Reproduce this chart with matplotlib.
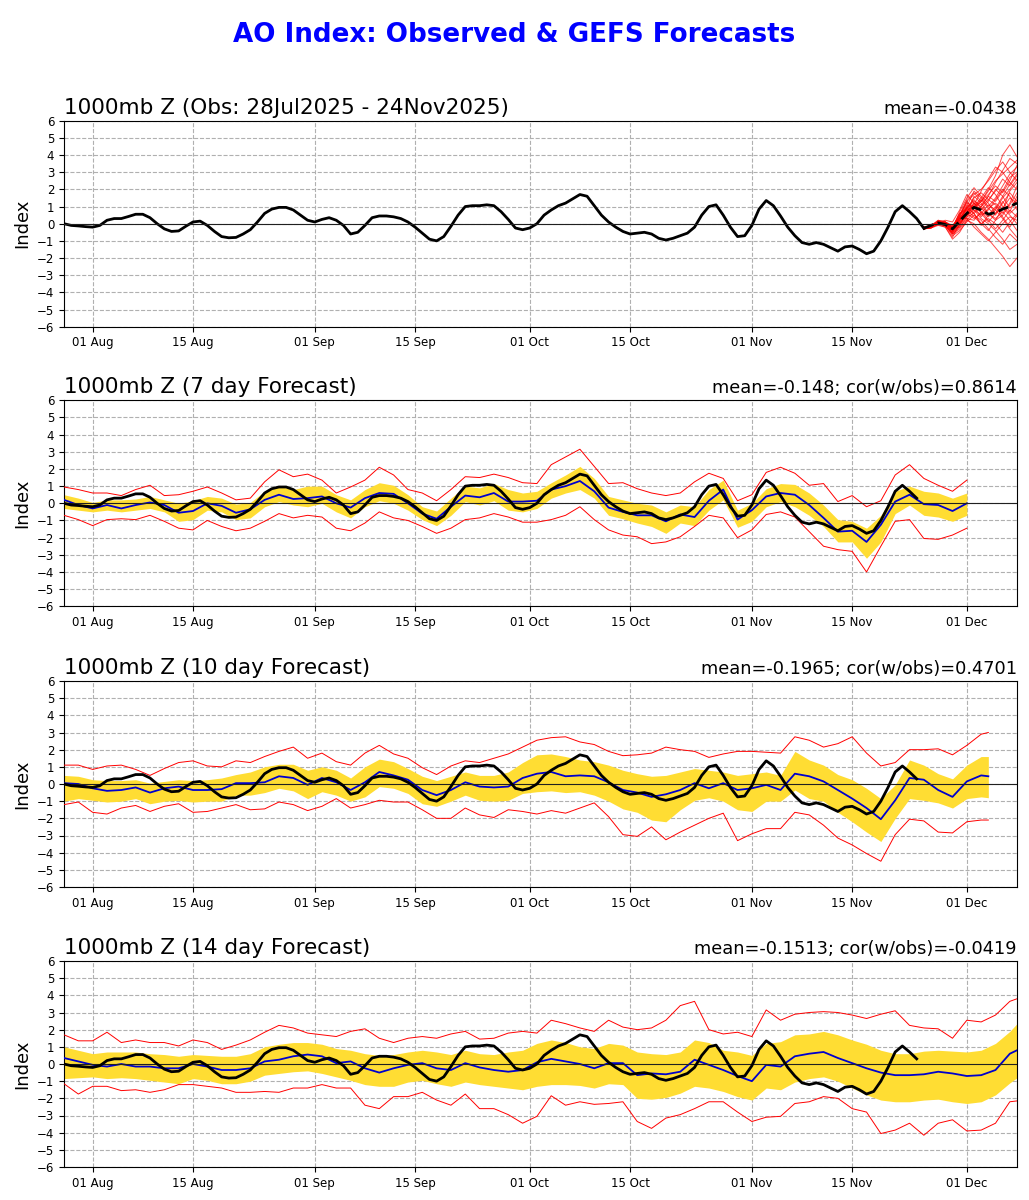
import numpy as np
import matplotlib
matplotlib.use('Agg')
import matplotlib.pyplot as plt
import matplotlib.dates as mdates

# ---- data ----
start = np.datetime64('2025-07-28')

# observed AO, daily from 28 Jul to 24 Nov
obs = [0.0, -0.1, -0.13, -0.17, -0.2, -0.1, 0.2, 0.3, 0.3, 0.42,
       0.55, 0.55, 0.35, 0.0, -0.3, -0.45, -0.42, -0.15, 0.1, 0.15,
       -0.1, -0.45, -0.75, -0.82, -0.8, -0.6, -0.35, 0.1, 0.6, 0.85,
       0.95, 0.95, 0.8, 0.5, 0.2, 0.1, 0.25, 0.35, 0.2, -0.1,
       -0.6, -0.5, -0.1, 0.35, 0.45, 0.45, 0.4, 0.3, 0.1, -0.2,
       -0.55, -0.9, -1.0, -0.75, -0.15, 0.5, 1.0, 1.05, 1.05, 1.1,
       1.05, 0.7, 0.25, -0.25, -0.35,
       -0.25, 0.0, 0.5, 0.8, 1.05, 1.2, 1.45, 1.7, 1.6, 1.05,
       0.5, 0.1, -0.2, -0.45, -0.6, -0.55, -0.5, -0.6, -0.85, -0.95,
       -0.85, -0.7, -0.55, -0.2, 0.5, 1.0, 1.1, 0.5, -0.2, -0.75,
       -0.7, -0.1, 0.85, 1.35, 1.05, 0.45, -0.2, -0.7, -1.1, -1.2,
       -1.1, -1.2, -1.4, -1.6, -1.35, -1.3, -1.5, -1.75, -1.6, -1.0,
       -0.2, 0.7, 1.05, 0.7, 0.3]
obs_days = np.arange(len(obs))

# GEFS ensemble from 25 Nov to 08 Dec
ens_days = np.arange(120, 134)
ens_mean = [-0.27, -0.1, 0.05, -0.05, -0.3, 0.15, 0.6, 0.95, 0.8, 0.55, 0.65, 0.85, 1.0, 1.2]
members = [
    [-0.25, -0.1, 0.1, 0.0, -0.3, 0.3, 0.9, 1.3, 1.1, 1.6, 2.4, 3.1, 3.8, 3.5],
    [-0.3, -0.2, 0.0, 0.1, -0.2, 0.5, 1.2, 1.0, 0.7, 0.4, 0.8, 1.5, 2.0, 2.6],
    [-0.2, -0.15, 0.05, -0.1, -0.6, -0.2, 0.4, 0.9, 1.3, 2.0, 2.8, 4.0, 4.6, 3.9],
    [-0.3, -0.25, -0.1, -0.2, -0.9, -0.5, 0.2, 0.0, -0.5, -0.9, -1.4, -1.9, -2.5, -2.0],
    [-0.25, -0.2, 0.2, 0.1, -0.4, 0.0, 0.6, 1.6, 1.2, 0.6, 0.2, 0.5, 1.1, 1.8],
    [-0.3, -0.1, 0.0, -0.15, -0.5, 0.2, 1.0, 1.9, 1.5, 1.0, 1.5, 2.2, 2.9, 3.3],
    [-0.2, -0.2, -0.05, 0.0, -0.2, 0.6, 0.8, 0.4, 0.0, -0.4, 0.2, 0.9, 0.5, 0.0],
    [-0.3, -0.25, 0.1, 0.2, 0.1, 0.8, 1.7, 1.2, 0.8, 1.3, 2.0, 1.6, 0.9, 1.4],
    [-0.25, -0.15, 0.0, -0.1, -0.7, -0.4, 0.1, 0.5, 0.2, -0.3, -0.8, -1.2, -0.6, -1.0],
    [-0.3, -0.2, 0.15, 0.05, -0.3, 0.4, 0.5, 1.0, 1.5, 2.1, 1.7, 1.0, 0.6, 1.0],
    [-0.2, -0.1, 0.0, 0.0, -0.1, 0.2, 0.6, 0.3, 0.6, 1.1, 0.8, 0.3, -0.3, -0.8],
    [-0.3, -0.2, 0.1, -0.05, -0.4, 0.1, 0.9, 1.4, 0.9, 0.5, 0.9, 1.6, 2.3, 2.9],
    [-0.25, -0.15, 0.05, 0.1, -0.2, 0.3, 0.3, -0.2, -0.6, -1.0, -0.5, 0.0, 0.4, 0.2],
    [-0.3, -0.2, -0.05, -0.2, -0.8, 0.0, 0.7, 1.1, 1.9, 2.6, 3.3, 3.0, 2.4, 2.0],
    [-0.2, -0.1, 0.1, 0.0, -0.3, 0.5, 1.3, 0.8, 0.3, 0.0, -0.4, -0.9, -1.5, -1.2],
    [-0.3, -0.25, 0.0, 0.05, -0.2, 0.2, 0.7, 1.2, 1.0, 1.4, 1.1, 0.6, 1.2, 2.2],
    [-0.25, -0.2, 0.1, -0.1, -0.5, -0.1, 0.5, 0.8, 0.5, 0.8, 1.4, 2.0, 1.6, 0.8],
    [-0.3, -0.15, 0.05, 0.0, -0.3, 0.7, 1.5, 2.1, 1.6, 1.2, 0.6, 0.9, 1.5, 1.2],
    [-0.2, -0.2, 0.0, -0.05, -0.4, 0.1, 0.4, 0.6, 0.0, 0.3, 0.0, -0.5, 0.1, 0.6],
    [-0.3, -0.1, 0.2, 0.1, -0.1, 0.4, 1.1, 0.9, 1.3, 1.9, 2.5, 2.9, 3.3, 3.7],
    [-0.25, -0.2, 0.0, -0.1, -0.6, -0.3, 0.2, 0.7, 1.0, 0.6, 0.3, 0.7, 0.2, -0.4],
    [-0.3, -0.2, 0.1, 0.0, -0.3, 0.3, 0.8, 1.0, 0.4, 0.9, 1.2, 0.8, 1.9, 2.4],
    [-0.25, -0.15, 0.1, 0.05, -0.4, 0.2, 0.9, 1.5, 1.8, 1.4, 1.9, 2.6, 2.2, 2.8],
    [-0.3, -0.2, 0.0, -0.1, -0.5, 0.4, 1.3, 1.7, 2.0, 2.5, 3.1, 3.6, 3.0, 2.5],
    [-0.2, -0.1, 0.05, 0.0, -0.3, -0.2, 0.3, 0.2, 0.7, 0.2, -0.3, 0.2, 0.8, 0.4],
    [-0.3, -0.25, 0.0, 0.1, -0.2, 0.6, 0.9, 0.6, 1.0, 1.6, 1.3, 1.9, 2.7, 3.0],
    [-0.25, -0.2, 0.1, 0.0, -0.5, 0.0, 0.5, 1.2, 0.6, 0.1, 0.6, 1.3, 0.7, 1.6],
    [-0.3, -0.1, 0.15, 0.05, -0.2, 0.3, 1.0, 0.6, -0.1, 0.5, 1.0, 0.4, -0.2, 0.5],
    [-0.2, -0.2, 0.0, -0.05, -0.6, -0.1, 0.6, 1.0, 1.4, 0.9, 0.5, 1.2, 1.8, 1.3],
    [-0.3, -0.15, 0.05, 0.1, -0.3, 0.5, 1.4, 1.8, 1.3, 1.7, 2.2, 1.8, 2.5, 3.4],
]

# 7 day forecasts (every 2nd day)
fc7_days = np.arange(0, 127, 2)
fc7_mean = [0.2, -0.1, -0.3, -0.1, -0.3, -0.1, 0.05, -0.1, -0.55, -0.45,
            0.0, -0.15, -0.55, -0.35, 0.2, 0.5, 0.25, 0.3, 0.4, 0.0,
            -0.25, 0.3, 0.6, 0.55, 0.0, -0.6, -0.9, -0.2, 0.45, 0.35,
            0.6, 0.1, 0.1,
            0.15, 0.8, 1.0, 1.3, 0.7, -0.25, -0.5, -0.7, -0.7, -1.05,
            -0.65, -0.8, 0.15, 0.8, -0.95, -0.4, 0.4, 0.6, 0.5, -0.1,
            -0.85, -1.65, -1.6, -2.25, -1.25, 0.1, 0.5, -0.05, -0.1, -0.45, 0.0]
fc7_hi = [0.5, 0.3, 0.05, 0.2, 0.2, 0.25, 0.4, 0.2, 0.0, 0.15,
          0.4, 0.3, -0.05, 0.05, 0.7, 1.0, 0.8, 1.0, 1.0, 0.5,
          0.2, 0.8, 1.2, 1.05, 0.5, -0.2, -0.45, 0.3, 1.0, 0.9,
          1.15, 0.8, 0.6,
          0.7, 1.2, 1.65, 2.15, 1.45, 0.4, 0.2, 0.0, -0.1, -0.5,
          -0.1, -0.2, 0.8, 1.35, -0.4, 0.0, 0.85, 1.15, 1.1, 0.6,
          -0.1, -0.95, -1.05, -1.45, -0.7, 0.7, 1.0, 0.7, 0.6, 0.3, 0.6]
fc7_lo = [-0.3, -0.4, -0.5, -0.4, -0.5, -0.4, -0.3, -0.5, -1.05, -0.95,
          -0.4, -0.5, -0.95, -0.85, -0.2, 0.1, -0.1, -0.2, 0.0, -0.5,
          -0.85, -0.2, 0.15, 0.0, -0.4, -0.95, -1.3, -0.7, 0.1, -0.1,
          0.15, -0.4, -0.5,
          -0.3, 0.3, 0.6, 0.8, 0.3, -0.7, -0.9, -1.15, -1.35, -1.75,
          -1.15, -1.3, -0.4, 0.2, -1.4, -1.05, -0.2, 0.1, -0.2, -0.7,
          -1.35, -2.25, -2.25, -3.2, -2.25, -0.6, -0.1, -0.7, -0.8, -1.05, -0.7]
fc7_max = [0.95, 0.8, 0.6, 0.6, 0.45, 0.8, 1.05, 0.45, 0.5, 0.7,
           0.95, 0.6, 0.2, 0.3, 1.25, 1.95, 1.55, 1.7, 1.35, 0.6,
           0.95, 1.35, 2.1, 1.65, 0.8, 0.6, 0.15, 0.8, 1.55, 1.5,
           1.7, 1.5, 1.2,
           1.15, 2.25, 2.7, 3.15, 2.15, 1.15, 1.2, 0.85, 0.6, 0.45,
           0.6, 1.25, 1.75, 1.45, 0.15, 0.5, 1.8, 2.1, 1.75, 1.05,
           1.15, 0.1, 0.45, -0.2, 0.15, 1.65, 2.25, 1.45, 1.05, 0.7, 1.35]
fc7_min = [-0.7, -0.95, -1.3, -0.95, -0.9, -0.95, -0.7, -1.05, -1.45, -1.55,
           -1.0, -1.35, -1.6, -1.45, -1.05, -0.6, -0.85, -0.7, -0.8, -1.45,
           -1.6, -1.15, -0.5, -0.85, -1.0, -1.35, -1.75, -1.45, -0.95, -0.85,
           -0.6, -0.8, -1.1,
           -1.1, -0.95, -0.7, -0.2, -0.95, -1.55, -1.85, -1.95, -2.35, -2.25,
           -1.95, -1.35, -0.7, -0.85, -2.0, -1.55, -0.65, -0.5, -0.8, -1.65,
           -2.5, -2.7, -2.8, -4.0, -2.5, -1.05, -0.95, -2.05, -2.1, -1.85, -1.45]

# 10 day forecasts
fc10_days = np.append(np.arange(0, 129, 2), 129)
fc10_mean = [0.05, 0.0, -0.25, -0.4, -0.35, -0.2, -0.5, -0.25, -0.15, -0.35,
             -0.35, -0.3, 0.05, 0.05, 0.1, 0.45, 0.35, -0.05, 0.35, 0.1,
             -0.35, 0.1, 0.7, 0.5, 0.25, -0.35, -0.65, -0.35, 0.1, -0.15,
             -0.2, -0.15, 0.35,
             0.6, 0.7, 0.45, 0.5, 0.45, 0.1, -0.35, -0.5, -0.75, -0.6,
             -0.35, 0.05, -0.25, 0.05, -0.35, -0.25, -0.05, -0.35, 0.6, 0.45,
             0.15, -0.35, -0.85, -1.4, -2.05, -0.95, 0.35, 0.25, -0.35, -0.75,
             0.15, 0.5, 0.45]
fc10_hi = [0.5, 0.45, 0.25, 0.2, 0.2, 0.25, 0.05, 0.15, 0.25, 0.2,
           0.25, 0.35, 0.55, 0.7, 1.0, 1.15, 1.15, 0.8, 1.0, 0.8,
           0.35, 1.0, 1.45, 1.3, 0.9, 0.45, 0.2, 0.45, 0.7, 0.5,
           0.5, 0.7, 1.25,
           1.7, 1.75, 1.6, 1.4, 1.3, 1.1, 0.8, 0.6, 0.45, 0.5,
           0.7, 0.9, 0.8, 0.7, 0.5, 0.6, 0.7, 0.5, 1.9, 1.4,
           1.1, 0.55, 0.25, -0.25, -0.85, -0.05, 1.4, 1.1, 0.6, 0.3,
           1.1, 1.6, 1.6]
fc10_lo = [-1.0, -0.85, -0.95, -1.05, -1.0, -0.85, -1.15, -1.0, -0.95, -1.05,
           -1.0, -1.0, -0.65, -0.65, -0.5, -0.25, -0.4, -0.85, -0.45, -0.65,
           -1.0, -0.75, -0.15, -0.25, -0.55, -1.15, -1.3, -1.0, -0.65, -0.95,
           -1.0, -0.95, -0.55,
           -0.45, -0.4, -0.5, -0.45, -0.65, -1.0, -1.45, -1.65, -2.1, -2.2,
           -1.5, -0.95, -0.8, -1.0, -1.5, -1.6, -1.0, -1.0, -0.35, -0.85,
           -1.0, -1.65, -2.2, -2.8, -3.35, -2.0, -0.85, -0.95, -1.1, -1.4,
           -0.85, -0.75, -0.8]
fc10_max = [1.1, 1.1, 0.85, 1.05, 1.1, 0.85, 0.5, 0.9, 1.25, 1.35,
            1.05, 1.0, 1.35, 1.25, 1.6, 1.9, 2.15, 1.5, 1.8, 1.3,
            1.1, 1.8, 2.25, 1.75, 1.5, 0.95, 0.55, 1.05, 1.35, 1.25,
            1.5, 1.75, 2.15,
            2.55, 2.7, 2.75, 2.45, 2.3, 1.9, 1.65, 1.7, 1.8, 2.15,
            2.0, 1.9, 1.55, 1.75, 1.9, 1.9, 1.85, 1.8, 2.75, 2.55,
            2.15, 2.35, 2.75, 1.8, 1.05, 1.25, 2.0, 2.0, 2.05, 1.7,
            2.25, 2.9, 3.0]
fc10_min = [-1.2, -1.05, -1.65, -1.75, -1.4, -1.25, -1.6, -1.3, -1.15, -1.65,
            -1.6, -1.4, -1.2, -1.5, -1.45, -1.05, -1.2, -1.55, -1.3, -0.85,
            -1.4, -1.2, -0.95, -1.05, -1.05, -1.5, -2.0, -2.0, -1.4, -1.8,
            -1.95, -1.5, -1.6,
            -1.75, -1.55, -1.7, -1.4, -1.1, -1.9, -2.95, -3.05, -2.5, -3.25,
            -2.8, -2.4, -2.0, -1.7, -3.3, -2.9, -2.6, -2.6, -1.65, -1.8,
            -2.4, -3.15, -3.55, -4.05, -4.5, -2.95, -2.05, -2.15, -2.8, -2.85,
            -2.2, -2.1, -2.1]

# 14 day forecasts
fc14_days = np.append(np.arange(0, 133, 2), 133)
fc14_mean = [0.35, 0.15, -0.05, -0.15, 0.0, -0.15, -0.15, -0.25, -0.25, 0.0,
             -0.15, -0.35, -0.35, -0.25, 0.15, 0.25, 0.45, 0.55, 0.45, 0.05,
             0.15, -0.25, -0.5, -0.25, -0.05, 0.05, -0.25, -0.35, 0.05, -0.2,
             -0.35, -0.45, -0.35,
             0.1, 0.3, 0.15, 0.0, -0.25, 0.05, 0.05, -0.65, -0.55, -0.6,
             -0.45, 0.25, -0.05, -0.35, -0.7, -1.0, -0.05, -0.15, 0.45, 0.6,
             0.7, 0.35, 0.05, -0.25, -0.5, -0.65, -0.65, -0.6, -0.45, -0.55,
             -0.7, -0.65, -0.35, 0.6, 0.8]
fc14_hi = [1.0, 0.8, 0.6, 0.7, 0.7, 0.7, 0.6, 0.55, 0.45, 0.55,
           0.5, 0.45, 0.45, 0.6, 1.0, 1.15, 1.25, 1.25, 1.15, 0.9,
           0.8, 0.6, 0.5, 0.55, 0.7, 0.8, 0.7, 0.55, 0.8, 0.6,
           0.55, 0.7, 0.8,
           1.2, 1.4, 1.25, 1.0, 0.9, 1.2, 1.1, 0.7, 0.6, 0.55,
           0.7, 1.4, 1.25, 0.8, 0.7, 0.5, 1.2, 1.3, 1.7, 1.75,
           1.9, 1.7, 1.4, 1.15, 0.8, 0.6, 0.6, 0.75, 0.8, 0.75,
           0.7, 0.8, 1.2, 1.9, 2.35]
fc14_lo = [-0.85, -0.8, -0.75, -0.85, -0.8, -0.85, -0.95, -1.05, -1.15, -0.85,
           -0.95, -1.15, -1.15, -1.0, -0.65, -0.55, -0.45, -0.4, -0.55, -0.75,
           -0.95, -1.2, -1.3, -1.3, -1.05, -0.95, -1.15, -1.3, -1.05, -1.2,
           -1.3, -1.4, -1.5,
           -1.3, -1.2, -1.2, -1.25, -1.4, -1.15, -1.2, -2.0, -2.05, -1.95,
           -1.7, -1.3, -1.4, -1.6, -1.9, -2.1, -1.4, -1.5, -1.05, -0.85,
           -0.75, -1.0, -1.4, -1.8, -2.1, -2.2, -2.2, -2.1, -2.05, -2.2,
           -2.3, -2.2, -1.8, -1.1, -0.8]
fc14_max = [1.7, 1.35, 1.35, 1.85, 1.25, 1.4, 1.25, 1.25, 1.05, 1.4,
            1.25, 0.85, 1.1, 1.4, 1.85, 2.25, 2.1, 1.8, 1.7, 1.6,
            1.9, 2.05, 1.5, 1.25, 1.5, 1.6, 1.5, 1.75, 1.9, 1.45,
            1.5, 1.8, 1.9,
            1.8, 2.55, 2.35, 2.1, 1.9, 2.55, 2.15, 2.0, 2.1, 2.55,
            3.4, 3.65, 2.0, 1.75, 1.85, 1.6, 3.15, 2.55, 2.9, 3.0,
            3.05, 3.0, 2.85, 2.65, 2.9, 3.1, 2.25, 2.1, 2.05, 1.5,
            2.55, 2.45, 2.85, 3.65, 3.8]
fc14_min = [-1.15, -1.75, -1.3, -1.3, -1.55, -1.5, -1.65, -1.5, -1.2, -1.2,
            -1.3, -1.4, -1.65, -1.65, -1.6, -1.65, -1.4, -1.4, -1.2, -1.4,
            -1.4, -2.4, -2.6, -1.9, -1.9, -1.65, -2.1, -2.4, -1.75, -2.6,
            -2.6, -2.95, -3.45,
            -3.05, -1.85, -2.4, -2.2, -2.35, -2.3, -2.2, -3.35, -3.75, -3.15,
            -2.95, -2.6, -2.2, -2.2, -2.8, -3.35, -3.1, -3.05, -2.3, -2.2,
            -1.9, -2.0, -2.6, -2.8, -4.05, -3.85, -3.45, -4.15, -3.45, -3.25,
            -3.9, -3.85, -3.45, -2.2, -2.15]

titles_left = ['1000mb Z (Obs: 28Jul2025 - 24Nov2025)',
               '1000mb Z (7 day Forecast)',
               '1000mb Z (10 day Forecast)',
               '1000mb Z (14 day Forecast)']
titles_right = ['mean=-0.0438',
                'mean=-0.148; cor(w/obs)=0.8614',
                'mean=-0.1965; cor(w/obs)=0.4701',
                'mean=-0.1513; cor(w/obs)=-0.0419']


def dates(d):
    return start + np.asarray(d).astype('timedelta64[D]')


W, H = 1029, 1200
fig = plt.figure(figsize=(W / 100, H / 100), dpi=100)
fig.suptitle('AO Index: Observed & GEFS Forecasts', color='blue',
             fontsize=18.8, fontweight='bold', y=1 - 35 / H, va='center')

bottoms = [326.7, 606.3, 887.0, 1167.0]
axes = []
for i, b in enumerate(bottoms):
    ax = fig.add_axes([64 / W, 1 - b / H, (1017 - 64) / W, 206 / H])
    ax.set_xlim(dates(0), dates(133))
    ax.set_ylim(-6, 6)
    ax.set_yticks(np.arange(-6, 7))
    ax.xaxis.set_major_locator(mdates.DayLocator(bymonthday=[1, 15]))
    ax.xaxis.set_major_formatter(mdates.DateFormatter('%d %b'))
    ax.tick_params(labelsize=8.5)
    ax.grid(True, ls='--', color='#b0b0b0', lw=0.8)
    ax.set_axisbelow(True)
    ax.axhline(0, color='#202020', lw=0.8, zorder=6)
    ax.set_ylabel('Index', fontsize=13)
    ax.set_title(titles_left[i], loc='left', fontsize=15.5, pad=3)
    ax.set_title(titles_right[i], loc='right', fontsize=12.8, pad=5)
    axes.append(ax)

# observed + ensemble
ax = axes[0]
for m in members:
    ax.plot(dates(ens_days), m, color='red', lw=0.7, alpha=0.7, zorder=3)
ax.plot(dates(np.append(obs_days, ens_days[0])), obs + [ens_mean[0]], 'k', lw=2, zorder=5)
ax.plot(dates(ens_days), ens_mean, 'k--', lw=2, zorder=5)

fc = [(fc7_days, fc7_mean, fc7_hi, fc7_lo, fc7_max, fc7_min),
      (fc10_days, fc10_mean, fc10_hi, fc10_lo, fc10_max, fc10_min),
      (fc14_days, fc14_mean, fc14_hi, fc14_lo, fc14_max, fc14_min)]
for ax, (d, mean, hi, lo, mx, mn) in zip(axes[1:], fc):
    ax.fill_between(dates(d), lo, hi, color='#FFDD33', lw=0, zorder=2)
    ax.plot(dates(d), mx, color='red', lw=0.7, zorder=3)
    ax.plot(dates(d), mn, color='red', lw=0.7, zorder=3)
    ax.plot(dates(d), mean, color='#0000CC', lw=1.3, zorder=4)
    ax.plot(dates(obs_days), obs, 'k', lw=2, zorder=7)

fig.savefig('out.png', dpi=100)
